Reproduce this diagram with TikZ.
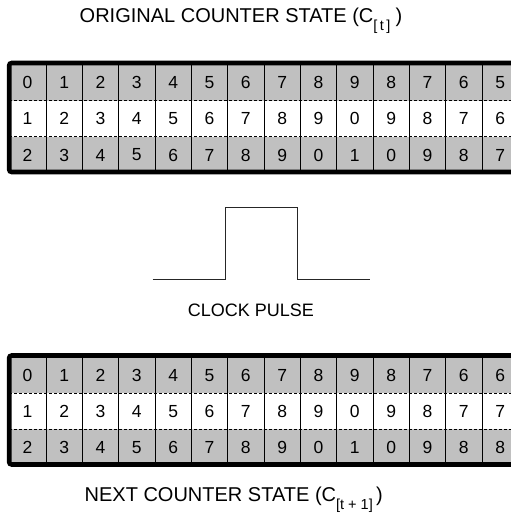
\documentclass[tikz,border=0pt]{standalone}
\usepackage{fontspec}
\setmainfont{Liberation Sans}
\definecolor{cgray}{RGB}{192,192,192}
\newcommand\mysubsc[1]{\raisebox{-0.4em}{\fontsize{14.5}{14.5}\selectfont #1}}
\newcommand\countertable[5]{%
  \fill[cgray] (9,#2) rectangle (525,#2+37.5);
  \fill[white] (9,#2+37.5) rectangle (525,#2+73.5);
  \fill[cgray] (9,#2+73.5) rectangle (525,#2+109);
  \draw[rowsep] (9,#2+37.5) -- (525,#2+37.5);
  \draw[rowsep] (9,#2+73.5) -- (525,#2+73.5);
  \foreach \k in {0,...,12}{
    \draw[colsep] ({46+36.33*\k},#2) -- ({46+36.33*\k},#2+109);
  }
  \draw[frame] (530,#2) -- (9.2,#2) -- (9.2,#2+109) -- (530,#2+109);
  \foreach \d [count=\i from 0] in {#3}
    \node[digit] (#1a\i) at ({\i==0 ? 27.5 : 46+36.33*(\i-0.5)},#2+19.6) {\d};
  \foreach \d [count=\i from 0] in {#4}
    \node[digit] (#1b\i) at ({\i==0 ? 27.5 : 46+36.33*(\i-0.5)},#2+55.7) {\d};
  \foreach \d [count=\i from 0] in {#5}
    \node[digit] (#1c\i) at ({\i==0 ? 27.5 : 46+36.33*(\i-0.5)},#2+92) {\d};
}
\begin{document}
\begin{tikzpicture}[x=1pt,y=-1pt,
  rowsep/.style={line width=0.7pt,dash pattern=on 3pt off 2pt},
  colsep/.style={line width=0.8pt},
  frame/.style={line width=4.6pt,rounded corners=2.5pt},
  digit/.style={inner sep=0pt,font=\fontsize{17.5}{17.5}\selectfont},
  label/.style={inner sep=0pt,anchor=base east,font=\fontsize{20}{20}\selectfont},
  pulse/.style={line width=0.9pt,draw=black!85}]
\useasboundingbox (0,0) rectangle (511,523);
\clip (0,0) rectangle (511,523);
\node[label,anchor=base west] (title) at (79.5,22.7) {ORIGINAL COUNTER STATE (C\mysubsc{[\hspace{2.5pt}t\hspace{2.5pt}]}\hspace{5pt})};
\countertable{t}{63}{0,1,2,3,4,5,6,7,8,9,8,7,6,5}{1,2,3,4,5,6,7,8,9,0,9,8,7,6}{2,3,4,5,6,7,8,9,0,1,0,9,8,7}
\coordinate (p0) at (152.7,279.3);
\coordinate (p1) at (225,279.3);
\coordinate (p2) at (225,207.3);
\coordinate (p3) at (297.3,207.3);
\coordinate (p4) at (297.3,279.3);
\coordinate (p5) at (370,279.3);
\draw[pulse] (p0) -- (p1) -- (p2) -- (p3) -- (p4) -- (p5);
\node[label,anchor=base,font=\fontsize{18}{18}\selectfont] (clock) at (251,316) {CLOCK PULSE};
\countertable{b}{355.5}{0,1,2,3,4,5,6,7,8,9,8,7,6,6}{1,2,3,4,5,6,7,8,9,0,9,8,7,7}{2,3,4,5,6,7,8,9,0,1,0,9,8,8}
\node[label] (next) at (383,501.7) {NEXT COUNTER STATE (C\mysubsc{[t + 1]}\,)};
\end{tikzpicture}
\end{document}
